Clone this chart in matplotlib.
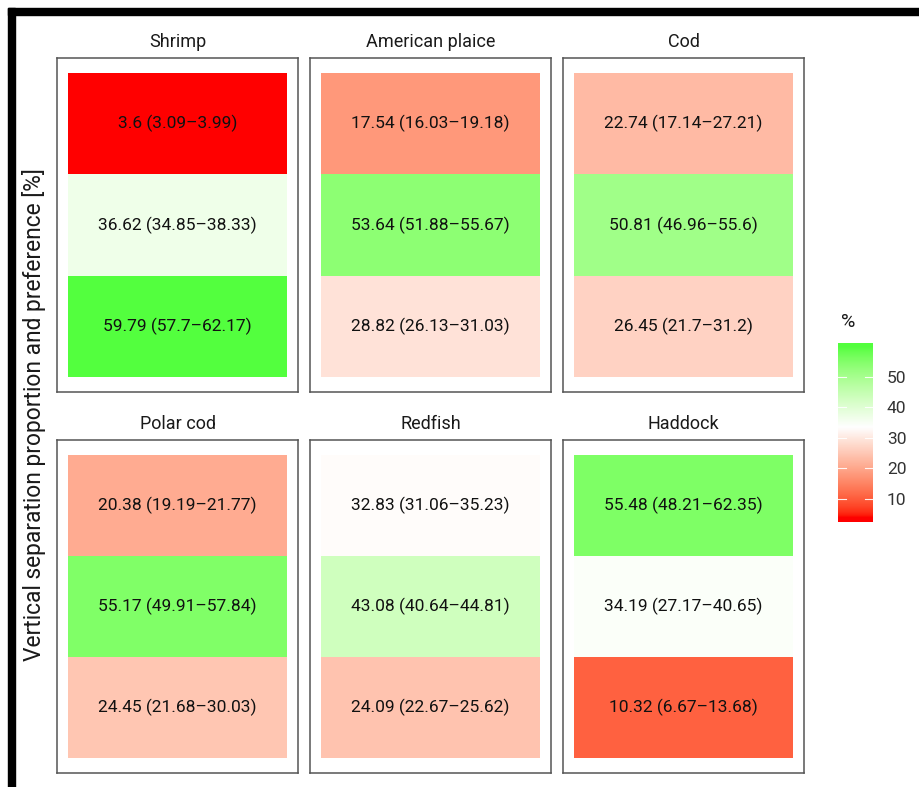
import numpy as np
import matplotlib
matplotlib.use("Agg")
import matplotlib.pyplot as plt
from matplotlib.colors import ListedColormap, Normalize
from matplotlib.patches import Rectangle

plt.rcParams['font.family'] = ['Roboto', 'DejaVu Sans']

# ---------------- data ----------------
species = ["Shrimp", "American plaice", "Cod", "Polar cod", "Redfish", "Haddock"]
# values listed top tile -> bottom tile
values = [
    [3.6, 36.62, 59.79],
    [17.54, 53.64, 28.82],
    [22.74, 50.81, 26.45],
    [20.38, 55.17, 24.45],
    [32.83, 43.08, 24.09],
    [55.48, 34.19, 10.32],
]
lower = [
    [3.09, 34.85, 57.7],
    [16.03, 51.88, 26.13],
    [17.14, 46.96, 21.7],
    [19.19, 49.91, 21.68],
    [31.06, 40.64, 22.67],
    [48.21, 27.17, 6.67],
]
upper = [
    [3.99, 38.33, 62.17],
    [19.18, 55.67, 31.03],
    [27.21, 55.6, 31.2],
    [21.77, 57.84, 30.03],
    [35.23, 44.81, 25.62],
    [62.35, 40.65, 13.68],
]
cbar_ticks = [10, 20, 30, 40, 50]
midpoint = 100 / 3

# ---------------- colour scale (Lab interpolation like ggplot gradient2) ----------------
M_RGB2XYZ = np.array([[0.4124, 0.3576, 0.1805],
                      [0.2126, 0.7152, 0.0722],
                      [0.0193, 0.1192, 0.9505]])
WP = np.array([0.95047, 1.0, 1.08883])

def srgb_to_lab(rgb):
    rgb = np.asarray(rgb, float)
    lin = np.where(rgb <= 0.04045, rgb / 12.92, ((rgb + 0.055) / 1.055) ** 2.4)
    t = (M_RGB2XYZ @ lin) / WP
    f = np.where(t > 216 / 24389, np.cbrt(t), (24389 / 27 * t + 16) / 116)
    return np.array([116 * f[1] - 16, 500 * (f[0] - f[1]), 200 * (f[1] - f[2])])

def lab_to_srgb(lab):
    L, a, b = lab
    fy = (L + 16) / 116
    fx = fy + a / 500
    fz = fy - b / 200
    def finv(f):
        return f ** 3 if f ** 3 > 216 / 24389 else (116 * f - 16) / (24389 / 27)
    xyz = np.array([finv(fx), finv(fy), finv(fz)]) * WP
    lin = np.clip(np.linalg.inv(M_RGB2XYZ) @ xyz, 0, 1)
    rgb = np.where(lin <= 0.0031308, lin * 12.92, 1.055 * lin ** (1 / 2.4) - 0.055)
    return np.clip(rgb, 0, 1)

lab_low, lab_mid, lab_high = srgb_to_lab((1, 0, 0)), srgb_to_lab((1, 1, 1)), srgb_to_lab((0, 1, 0))
cols = []
for t in np.linspace(0, 1, 512):
    if t <= 0.5:
        lab = lab_low + (t / 0.5) * (lab_mid - lab_low)
    else:
        lab = lab_mid + ((t - 0.5) / 0.5) * (lab_high - lab_mid)
    cols.append(lab_to_srgb(lab))
cmap = ListedColormap(cols)

allv = np.array(values).ravel()
span = max(abs(allv.min() - midpoint), abs(allv.max() - midpoint))
norm = Normalize(vmin=midpoint - span, vmax=midpoint + span)

# ---------------- figure ----------------
W, H = 919, 787
fig = plt.figure(figsize=(W / 100, H / 100), dpi=100)

def fax(x0, y0, x1, y1):
    return fig.add_axes([x0 / W, 1 - y1 / H, (x1 - x0) / W, (y1 - y0) / H])

# black frame on top and left
fig.patches.append(Rectangle((8 / W, 0), 7 / W, 1 - 8 / H, transform=fig.transFigure,
                             color="black", zorder=10))
fig.patches.append(Rectangle((8 / W, 1 - 15 / H), 1 - 8 / W, 7 / H, transform=fig.transFigure,
                             color="black", zorder=10))

col_x = [(57, 298), (310, 551), (563, 804)]
row_y = [(58, 392), (440, 773)]

for k, name in enumerate(species):
    r, c = divmod(k, 3)
    x0, x1 = col_x[c]
    y0, y1 = row_y[r]
    ax = fax(x0, y0, x1, y1)
    v = np.array(values[k])
    z = v[::-1].reshape(3, 1)
    ax.pcolormesh([0, 1], [0, 1, 2, 3], z, cmap=cmap, norm=norm, shading="flat")
    for i in range(3):
        ax.text(0.5, 2.5 - i, f"{values[k][i]:g} ({lower[k][i]:g}\u2013{upper[k][i]:g})",
                ha="center", va="center", fontsize=12.5, color="#111111")
    ax.set_xlim(-0.05, 1.05)
    ax.set_ylim(-0.15, 3.15)
    ax.set_xticks([])
    ax.set_yticks([])
    for sp in ax.spines.values():
        sp.set_color("#555555")
        sp.set_linewidth(1.1)
    ax.set_title(name, fontsize=13, color="#1a1a1a", pad=8)

fig.text(34 / W, 1 - 415 / H, "Vertical separation proportion and preference [%]",
         rotation=90, ha="center", va="center", fontsize=16.4, color="#1a1a1a")

# colour bar (20 bins, ggplot-style tick placement)
vmin, vmax = allv.min(), allv.max()
nbin = 20
pad = (vmax - vmin) / (nbin - 1) * 0.5
cax = fax(838, 342.5, 873, 522.5)
grad = np.linspace(vmin, vmax, nbin).reshape(-1, 1)
cax.imshow(grad, cmap=cmap, norm=norm, aspect="auto", origin="lower",
           extent=[0, 1, vmin - pad, vmax + pad], interpolation="bilinear")
cax.set_xlim(0, 1)
cax.set_ylim(vmin - pad, vmax + pad)
cax.set_xticks([])
cax.yaxis.tick_right()
cax.set_yticks(cbar_ticks)
cax.set_yticklabels([str(t) for t in cbar_ticks], fontsize=12.5, color="#333333")
cax.tick_params(axis="y", length=0, pad=10)
for t in cbar_ticks:
    cax.plot([0, 0.22], [t, t], color="white", lw=0.8, alpha=0.9)
    cax.plot([0.78, 1], [t, t], color="white", lw=0.8, alpha=0.9)
for sp in cax.spines.values():
    sp.set_visible(False)
fig.text(848 / W, 1 - 322 / H, "%", ha="center", va="center", fontsize=14, color="#1a1a1a")

fig.savefig("out.png", dpi=100)
